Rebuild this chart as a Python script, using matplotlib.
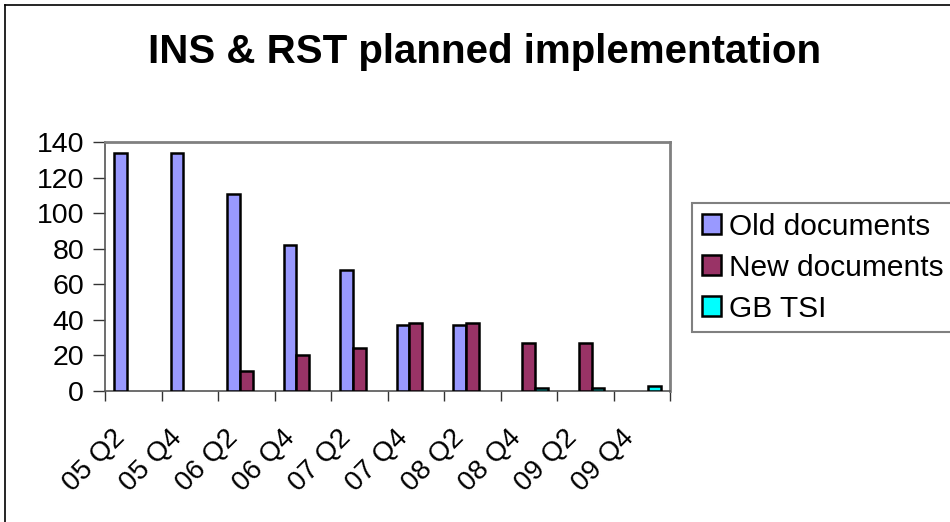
import matplotlib.pyplot as plt
import numpy as np
from matplotlib.lines import Line2D
from matplotlib.transforms import ScaledTranslation

plt.rcParams['font.family'] = ['Liberation Sans', 'DejaVu Sans']

quarters = ["05 Q2", "05 Q4", "06 Q2", "06 Q4", "07 Q2",
            "07 Q4", "08 Q2", "08 Q4", "09 Q2", "09 Q4"]
old_docs = [134, 134, 111, 82, 68, 37, 37, 0, 0, 0]
new_docs = [0, 0, 11, 20, 24, 38, 38, 27, 27, 0]
gb_tsi = [0, 0, 0, 0, 0, 0, 0, 1.5, 1.5, 3]

series = [("Old documents", old_docs, '#9999FF'),
          ("New documents", new_docs, '#993366'),
          ("GB TSI", gb_tsi, '#00FFFF')]

W, H = 950, 522
my_dpi = 100
fig = plt.figure(figsize=(W / my_dpi, H / my_dpi), dpi=my_dpi)
fig.patch.set_facecolor('white')

ax = fig.add_axes([105 / W, 1 - 391 / H, (670 - 105) / W, (391 - 142) / H])

x = np.arange(len(quarters))
bw = 1 / 4.5
for i, (name, vals, col) in enumerate(series):
    vals = np.array(vals, dtype=float)
    keep = vals > 0  # empty quarters get no bar at all
    ax.bar(x[keep] + (i - 1) * bw, vals[keep], width=bw, color=col,
           edgecolor='black', linewidth=1.8, label=name, zorder=3)

ax.set_xlim(-0.5, len(quarters) - 0.5)
ax.set_ylim(0, 140)
ax.set_yticks(range(0, 141, 20))
ax.tick_params(axis='y', labelsize=20.5, direction='out', length=9,
               width=1, pad=6, colors='#333333', labelcolor='black')

# category boundaries get the tick marks, labels sit at centres
ax.set_xticks(np.arange(-0.5, len(quarters), 1))
ax.set_xticklabels([])
ax.tick_params(axis='x', which='major', direction='out', length=7,
               width=1, colors='#333333')
ax.set_xticks(x, minor=True)
ax.set_xticklabels(quarters, minor=True, rotation=45, ha='right',
                   va='center', rotation_mode='anchor', fontsize=20)
ax.tick_params(axis='x', which='minor', length=0, pad=31)
shift = ScaledTranslation(-12 / my_dpi, 0, fig.dpi_scale_trans)
for lbl in ax.get_xticklabels(minor=True):
    lbl.set_transform(lbl.get_transform() + shift)

for s in ['top', 'right']:
    ax.spines[s].set_color('#808080')
    ax.spines[s].set_linewidth(2)
for s in ['left', 'bottom']:
    ax.spines[s].set_color('#555555')
    ax.spines[s].set_linewidth(1.2)

fig.text(485 / W, 1 - 52 / H, "INS & RST planned implementation",
         ha='center', va='center', fontsize=29, fontweight='bold')

leg = fig.legend(loc='upper left',
                 bbox_to_anchor=(692 / W, 1 - 330 / H, 300 / W, 127 / H),
                 mode='expand', borderaxespad=0, fontsize=21.5,
                 handlelength=0.65, handleheight=0.65, handletextpad=0.25,
                 labelspacing=0.43, borderpad=0.33, fancybox=False,
                 framealpha=1, edgecolor='#808080')
leg.get_frame().set_linewidth(1.5)

# outer chart border, only left and top fall inside the image
fig.add_artist(Line2D([4.5 / W, 4.5 / W], [0, 1 - 5 / H],
                      transform=fig.transFigure, color='black', lw=1.2))
fig.add_artist(Line2D([4.5 / W, 1], [1 - 5 / H, 1 - 5 / H],
                      transform=fig.transFigure, color='black', lw=1.2))

fig.savefig("out.png", dpi=my_dpi)
plt.close(fig)
